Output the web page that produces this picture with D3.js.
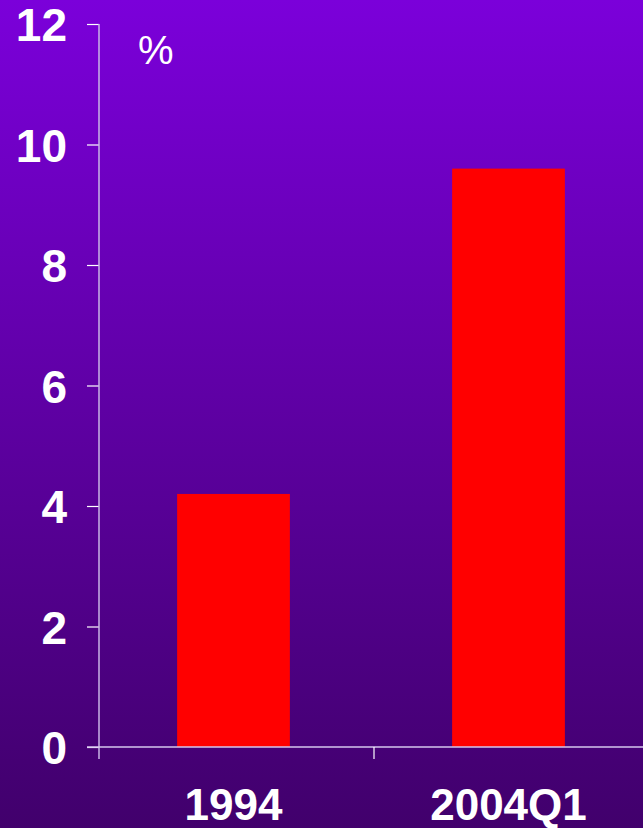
<!DOCTYPE html>
<html><head><meta charset="utf-8">
<script src="https://cdn.jsdelivr.net/npm/d3@7"></script>
<style>
html,body{margin:0;padding:0;background:#43006f;}
svg{display:block;}
</style></head>
<body>
<script>
const categories = ["1994", "2004Q1"];
const values = [4.2, 9.6];
const yTicks = [0, 2, 4, 6, 8, 10, 12];
const unitLabel = "%";

(function(){
const W = 643, H = 828;
const svg = d3.select("body").append("svg").attr("width", W).attr("height", H);

const defs = svg.append("defs");
const grad = defs.append("linearGradient").attr("id","bg").attr("x1",0).attr("y1",0).attr("x2",0).attr("y2",1);
grad.append("stop").attr("offset","0%").attr("stop-color","#7b00da");
grad.append("stop").attr("offset","92%").attr("stop-color","#450074");
grad.append("stop").attr("offset","100%").attr("stop-color","#41006c");
svg.append("rect").attr("width",W).attr("height",H).attr("fill","url(#bg)");

const mLeft = 99, mRight = 649, mTop = 24, mBottom = 747;
const y = d3.scaleLinear().domain([0,12]).range([mBottom, mTop]);
const x = d3.scaleBand().domain(categories).range([mLeft, mRight]).paddingInner(0.59).paddingOuter(0.295);
const xSep = d3.scaleBand().domain(categories).range([mLeft, mRight]).padding(0);

// bars
svg.selectAll("rect.bar").data(values).join("rect").attr("class","bar")
  .attr("x",(d,i)=>x(categories[i]) - 3)
  .attr("width",x.bandwidth())
  .attr("y",d=>y(d))
  .attr("height",d=>y(0)-y(d))
  .attr("fill","#ff0000");

// y axis
const yAxis = d3.axisLeft(y).tickValues(yTicks).tickSize(12).tickSizeOuter(0).tickPadding(20);
const gy = svg.append("g").attr("transform",`translate(${mLeft},0)`).call(yAxis);
gy.select(".domain").remove();
gy.selectAll(".tick line").attr("stroke","#ffffff").attr("stroke-width",1.2);
gy.selectAll(".tick text").attr("fill","#ffffff")
  .style("font-family","'Liberation Sans', Arial, sans-serif")
  .style("font-weight","bold").style("font-size","46px").attr("dy","0.36em");
svg.append("line").attr("x1",mLeft).attr("x2",mLeft).attr("y1",mTop).attr("y2",mBottom+12)
  .attr("stroke","#c9b6e6").attr("stroke-width",1.5);

// x axis line
svg.append("line").attr("x1",mLeft-12).attr("x2",W).attr("y1",mBottom).attr("y2",mBottom)
  .attr("stroke","#d6c6ee").attr("stroke-width",1.5);
// category separator ticks
svg.selectAll("line.sep").data(categories.slice(1)).join("line").attr("class","sep")
  .attr("x1",d=>xSep(d)).attr("x2",d=>xSep(d)).attr("y1",mBottom).attr("y2",mBottom+12)
  .attr("stroke","#ffffff").attr("stroke-width",1.2);

// x labels
svg.selectAll("text.xl").data(categories).join("text").attr("class","xl")
  .attr("x",d=>x(d)+x.bandwidth()/2 - 3)
  .attr("y",820)
  .attr("text-anchor","middle")
  .attr("fill","#ffffff")
  .style("font-family","'Liberation Sans', Arial, sans-serif")
  .style("font-weight","bold").style("font-size","44px")
  .text(d=>d);

// unit label
svg.append("text").attr("x",138).attr("y",64).attr("fill","#ffffff")
  .style("font-family","'Liberation Sans', Arial, sans-serif")
  .style("font-size","40px").text(unitLabel);
})();
</script>
</body></html>
